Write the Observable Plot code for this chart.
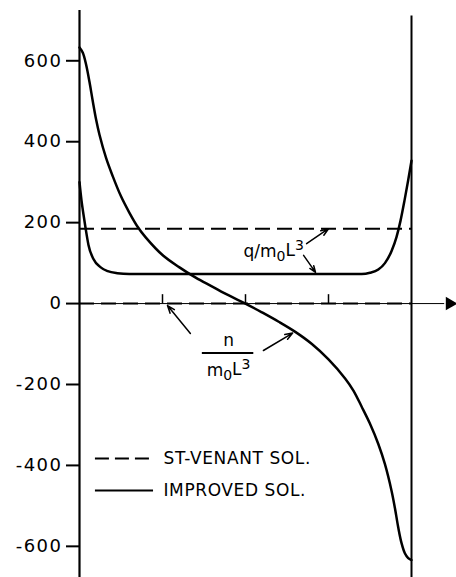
<!DOCTYPE html>
<html><head><meta charset="utf-8">
<script src="https://cdn.jsdelivr.net/npm/d3@7"></script>
<script src="https://cdn.jsdelivr.net/npm/@observablehq/plot@0.6"></script>
<style>body{margin:0;background:#fff} svg{display:block}</style>
</head><body><div id="chart"></div>
<script>
// Improved solution, n / m0 L^3
const nX = [0, 0.01, 0.02, 0.03, 0.04, 0.05, 0.06, 0.08, 0.1, 0.125, 0.15, 0.175, 0.2, 0.25, 0.3, 0.35, 0.4, 0.45, 0.5,
            0.55, 0.6, 0.65, 0.7, 0.75, 0.8, 0.825, 0.85, 0.875, 0.9, 0.92, 0.94, 0.95, 0.96, 0.97, 0.98, 0.99, 1];
const nY = [633, 620, 590, 548, 500, 455, 418, 360, 315, 265, 225, 190, 163, 120, 90, 64, 42, 20, 0,
            -22, -45, -70, -100, -138, -185, -215, -255, -297, -347, -397, -463, -505, -553, -592, -617, -629, -634];
// Improved solution, q / m0 L^3
const qX = [0, 0.006, 0.012, 0.018, 0.027, 0.042, 0.063, 0.085, 0.114, 0.15, 0.5, 0.85, 0.875, 0.9, 0.92, 0.94, 0.955, 0.967, 0.979, 0.99, 1];
const qY = [300, 255, 220, 188, 145, 110, 90, 80, 75, 73, 73, 73, 76, 84, 100, 130, 165, 205, 255, 305, 353];
// St-Venant solution (constant)
const stVenantQ = 185;
const stVenantN = 0;
const yTicks = [-600, -400, -200, 0, 200, 400, 600];
const xTicks = [0.25, 0.5, 0.75];
const legendLabels = ["ST-VENANT SOL.", "IMPROVED SOL."];

const nData = nX.map((x, i) => ({x, y: nY[i]}));
const qData = qX.map((x, i) => ({x, y: qY[i]}));
const pointers = [
  {x1: 0.684, y1: 148, x2: 0.750, y2: 185},
  {x1: 0.675, y1: 119, x2: 0.711, y2: 77},
  {x1: 0.334, y1: -74, x2: 0.265, y2: -5},
  {x1: 0.554, y1: -116, x2: 0.642, y2: -73}
];

const plot = Plot.plot({
  width: 456, height: 577,
  marginTop: 0, marginBottom: 0, marginLeft: 79, marginRight: 45,
  x: {domain: [0, 1], axis: null},
  y: {domain: [-677, 749]},
  style: {fontFamily: "DejaVu Sans", fontSize: "16px", color: "black", background: "white"},
  marks: [
    Plot.axisY({ticks: yTicks, tickSize: 13, tickPadding: 4, strokeWidth: 2, fontSize: 18,
      label: null, tickFormat: d => d < 0 ? "-" + Math.abs(d) : String(d)}),
    // axes frame
    Plot.ruleX([0], {y1: -677, y2: 724, strokeWidth: 2.2}),
    Plot.ruleX([1], {y1: -677, y2: 711, strokeWidth: 2}),
    Plot.ruleY([0], {x1: 0, x2: 1.1, strokeWidth: 1}),
    Plot.dot([0], {x: () => 1.115, y: 0, symbol: "triangle", rotate: 90, r: 5, fill: "black", stroke: null}),
    Plot.ruleX(xTicks, {y1: 0, y2: 22, strokeWidth: 1.5}),
    // St-Venant
    Plot.ruleY([stVenantQ], {x1: 0, x2: 1, strokeWidth: 2, strokeDasharray: "15,7"}),
    Plot.ruleY([stVenantN], {x1: 0, x2: 1, strokeWidth: 2, strokeDasharray: "15,7"}),
    // Improved
    Plot.line(nData, {x: "x", y: "y", curve: "catmull-rom", strokeWidth: 2.5}),
    Plot.line(qData, {x: "x", y: "y", curve: "monotone-x", strokeWidth: 2.5}),
    // annotations
    Plot.arrow(pointers, {x1: "x1", y1: "y1", x2: "x2", y2: "y2", strokeWidth: 1.5, headLength: 8, headAngle: 40}),
    Plot.text(["q/m0L3"], {x: 0.585, y: 128, fontSize: 17}),
    Plot.text(["n"], {x: 0.449, y: -91, fontSize: 17}),
    Plot.ruleY([-122], {x1: 0.37, x2: 0.525, strokeWidth: 2}),
    Plot.text(["m0L3"], {x: 0.449, y: -165, fontSize: 17}),
    // legend
    Plot.ruleY([-383], {x1: 0.048, x2: 0.223, strokeWidth: 2, strokeDasharray: "14,6"}),
    Plot.ruleY([-462], {x1: 0.048, x2: 0.223, strokeWidth: 2}),
    Plot.text(legendLabels, {x: 0.253, y: (d, i) => i === 0 ? -383 : -462, textAnchor: "start", fontSize: 17})
  ]
});
document.getElementById("chart").appendChild(plot);
d3.select(plot).selectAll('[aria-label="y-axis tick label"] text').style("letter-spacing", "1.5px");
d3.select(plot).selectAll("text").each(function() {
  const t = this.textContent;
  if (t === "ST-VENANT SOL." || t === "IMPROVED SOL.") this.style.letterSpacing = "0.6px";
  const m = t.match(/^(.*m)0L3$/);
  if (m) {
    const s = d3.select(this);
    s.text(null);
    s.append("tspan").text(m[1]);
    s.append("tspan").attr("dy", "0.3em").attr("font-size", 14).text("0");
    s.append("tspan").attr("dy", "-0.3em").text("L");
    s.append("tspan").attr("dy", "-0.45em").attr("font-size", 14).text("3");
  }
});
</script>
</body></html>
